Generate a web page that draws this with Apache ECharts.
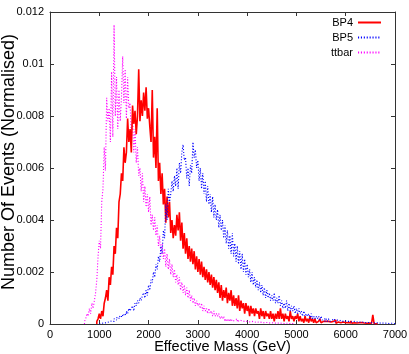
<!DOCTYPE html>
<html>
<head>
<meta charset="utf-8">
<script src="https://cdn.jsdelivr.net/npm/echarts@6/dist/echarts.min.js"></script>
<style>html,body{margin:0;padding:0;background:#fff}#c{width:409px;height:354px}</style>
</head>
<body>
<div id="c"></div>
<script>
const binWidth = 25;
const xTicks = [0, 1000, 2000, 3000, 4000, 5000, 6000, 7000];
const yTicks = [0, 0.002, 0.004, 0.006, 0.008, 0.01, 0.012];
const seriesNames = ['BP4', 'BP5', 'ttbar'];

const bp4Start = 950;
const bp4Values = [
0.0001,0.0002,0.0004,0.0002,0.0005,0.0003,0.0008,0.0010,0.0013,0.0009,
0.0018,0.0015,0.0022,0.0019,0.0030,0.0027,0.0037,0.0033,0.0047,0.0050,
0.0058,0.0055,0.0068,0.0062,0.0066,0.0079,0.0070,0.0075,0.0066,0.0084,
0.0077,0.0082,0.0073,0.0080,0.0098,0.0078,0.0086,0.0080,0.0089,0.0082,
0.0091,0.0079,0.0083,0.0076,0.0070,0.0090,0.0064,0.0072,0.0060,0.0083,
0.0055,0.0062,0.0050,0.0058,0.0046,0.0052,0.0039,0.0049,0.0041,0.0047,
0.0035,0.0040,0.0033,0.0038,0.0034,0.0042,0.0036,0.0043,0.0032,0.0039,
0.0029,0.0035,0.0027,0.0033,0.0025,0.0030,0.0024,0.0029,0.0023,0.0028,
0.0021,0.0026,0.0020,0.0025,0.0019,0.0024,0.0018,0.0022,0.0017,0.0021,
0.0016,0.0020,0.0015,0.0019,0.0014,0.0018,0.0013,0.0017,0.0012,0.0016,
0.0010,0.0015,0.0009,0.0013,0.0010,0.0014,0.0008,0.0012,0.0009,0.0013,
0.0007,0.0011,0.0007,0.0010,0.0006,0.0011,0.0005,0.0009,0.0006,0.0008,
0.0004,0.0008,0.0005,0.0007,0.0003,0.0007,0.0004,0.0006,0.0003,0.0006,
0.0004,0.0005,0.0002,0.0006,0.0003,0.0005,0.0002,0.0005,0.0003,0.0004,
0.0002,0.0005,0.0002,0.0004,0.0001,0.0004,0.0002,0.0005,0.0002,0.0006,
0.0002,0.0004,0.0001,0.0004,0.0002,0.0003,0.0001,0.0005,0.0002,0.0003,
0.0001,0.0003,0.0002,0.0004,0.0001,0.0003,0.0001,0.0002,0.00005,0.0003,
0.0001,0.0002,0.00005,0.0003,0.0001,0.0002,0.00005,0.0002,0.00005,0.0001,
0.00005,0.0002,0.00005,0.0001,0.00005,0.0001,0.00005,0.0001,0.00003,0.00008,
0.00003,0.0001,0.00005,0.00015,0.00003,0.00008,0.00003,0.00005,0.00002,0.00008,
0.00003,0.00005,0.00002,0.00006,0.00003,0.00004,0.00012,0.00003,0.00005,0.00002,
0.00004,0.00002,0.00005,0.00002,0.00006,0.00002,0.00004,0.00002,0.00003,0.00002,
0.00004,0.00002,0.00003,0.00002,0.00035,0.00002,0.00001,0.00001
];

const bp5Start = 1000;
const bp5Values = [
0.00002,0.00003,0.00005,0.00004,0.00006,0.00005,0.0001,0.00008,0.0001,0.00012,
0.00015,0.0001,0.0002,0.00015,0.00025,0.0002,0.0003,0.00025,0.00035,0.0003,
0.0004,0.00035,0.0005,0.0004,0.0006,0.0005,0.0006,0.0007,0.0005,0.0008,
0.0007,0.0009,0.0008,0.0010,0.0009,0.0011,0.0012,0.0010,0.0013,0.0011,
0.0015,0.0013,0.0017,0.0016,0.0020,0.0018,0.0023,0.0021,0.0026,0.0024,
0.0030,0.0027,0.0036,0.0033,0.0046,0.0040,0.0052,0.0047,0.0050,0.0055,
0.0051,0.0057,0.0053,0.0060,0.0052,0.0062,0.0058,0.0066,0.0069,0.0063,
0.0064,0.0056,0.0060,0.0053,0.0061,0.0058,0.0070,0.0064,0.0067,0.0060,
0.0063,0.0055,0.0060,0.0052,0.0058,0.0050,0.0055,0.0047,0.0053,0.0046,
0.0050,0.0043,0.0049,0.0041,0.0046,0.0040,0.0044,0.0037,0.0042,0.0036,
0.0040,0.0033,0.0038,0.0031,0.0036,0.0029,0.0034,0.0027,0.0035,0.0026,
0.0031,0.0024,0.0030,0.0023,0.0028,0.0021,0.0027,0.0020,0.0025,0.0019,
0.0023,0.0018,0.0021,0.0016,0.0020,0.0015,0.0018,0.0014,0.0017,0.0013,
0.0016,0.0012,0.0015,0.0011,0.0014,0.0010,0.0013,0.0010,0.0012,0.0009,
0.0011,0.0009,0.0012,0.0008,0.0010,0.0008,0.0011,0.0007,0.0009,0.0006,
0.0008,0.0006,0.0009,0.0005,0.0008,0.0005,0.0007,0.0005,0.0007,0.0004,
0.0006,0.0004,0.0006,0.0004,0.0005,0.0003,0.0005,0.0003,0.0004,0.0003,
0.0004,0.0002,0.0004,0.0002,0.0003,0.0002,0.0003,0.0002,0.0003,0.00015,
0.0003,0.00015,0.0002,0.0001,0.0002,0.0001,0.0002,0.0001,0.00015,0.0001,
0.0002,0.00008,0.00015,0.0001,0.00015,0.00008,0.0001,0.00005,0.00012,0.00006,
0.0001,0.00005,0.0001,0.00004,0.00008,0.00005,0.0001,0.00004,0.00008,0.00003,
0.00007,0.00004,0.00008,0.00003,0.00006,0.00003,0.00005,0.00002,0.00006,0.00003,
0.00005,0.00002,0.00004,0.00002,0.00005,0.00002,0.00004,0.00001,0.00003,0.00002,
0.00004,0.00001,0.00003,0.00001,0.00002,0.00001,0.00003,0.00001,0.00002,0.00001
];

const ttbarStart = 700;
const ttbarValues = [
0.0001,0.0002,0.0004,0.0003,0.0006,0.0004,0.0008,0.0006,0.0009,0.0012,
0.0017,0.0026,0.0032,0.0029,0.0047,0.0052,0.0068,0.0059,0.0087,0.0078,
0.0083,0.0070,0.0097,0.0072,0.0115,0.0080,0.0095,0.0075,0.0090,0.0078,
0.0087,0.0103,0.0085,0.0098,0.0079,0.0095,0.0083,0.0085,0.0072,0.0080,
0.0066,0.0075,0.0062,0.0068,0.0057,0.0060,0.0051,0.0058,0.0047,0.0053,
0.0045,0.0050,0.0043,0.0049,0.0038,0.0042,0.0036,0.0041,0.0034,0.0038,
0.0030,0.0034,0.0026,0.0031,0.0025,0.0029,0.0022,0.0027,0.0021,0.0025,
0.0019,0.0023,0.0018,0.0021,0.0016,0.0019,0.0015,0.0018,0.0013,0.0016,
0.0012,0.0015,0.0011,0.0014,0.0010,0.0013,0.0009,0.0011,0.0008,0.0010,
0.0007,0.0009,0.0007,0.0008,0.0006,0.0008,0.0005,0.0007,0.0005,0.0006,
0.0004,0.0006,0.0004,0.0005,0.0003,0.0005,0.0003,0.0004,0.0003,0.0004,
0.0002,0.0003,0.0002,0.0003,0.0001,0.0002,0.0001,0.0002,0.0001,0.0002,
0.0001,0.00015,0.0001,0.0002,0.00008,0.00015,0.0001,0.00012,0.00006,0.0001,
0.00005,0.0001,0.00005,0.00008,0.00004,0.0001,0.00005,0.00008,0.00003,0.00006,
0.00004,0.00008,0.00003,0.00006,0.00002,0.00005,0.00003,0.00006,0.00002,0.00004,
0.00002,0.00005,0.00002,0.00004,0.00001,0.00003,0.00002,0.00004,0.00001,0.00003,
0.00001,0.00002,0.00001,0.00003,0.00001,0.00002,0.00001,0.00002,0.00001,0.00001
];

function toSteps(start, values) {
  const pts = [[start, 0]];
  values.forEach((v, i) => pts.push([start + i * binWidth, v]));
  pts.push([start + values.length * binWidth, 0]);
  return pts;
}

const sans = "'Liberation Sans', Arial, sans-serif";
const axisColor = '#333';

function baseAxis(extra) {
  return Object.assign({
    type: 'value',
    nameMoveOverlap: false,
    axisLine: { show: true, onZero: false, lineStyle: { color: axisColor, width: 1 } },
    axisTick: { show: true, inside: true, length: 4, lineStyle: { color: axisColor } },
    splitLine: { show: false }
  }, extra);
}

const chart = echarts.init(document.getElementById('c'), null, { renderer: 'canvas' });
chart.setOption({
  animation: false,
  backgroundColor: '#fff',
  grid: { left: 50, right: 14, top: 12, bottom: 30, containLabel: false, outerBoundsMode: 'none' },
  legend: {
    data: seriesNames,
    orient: 'vertical',
    align: 'right',
    right: 22,
    top: 12,
    itemWidth: 23,
    itemHeight: 10,
    itemGap: 4,
    itemStyle: { color: 'rgba(0,0,0,0)', borderColor: 'rgba(0,0,0,0)', borderWidth: 0 },
    textStyle: { fontFamily: sans, fontSize: 11, color: '#000' }
  },
  xAxis: [
    baseAxis({
      min: xTicks[0], max: xTicks[xTicks.length - 1], interval: 1000,
      name: 'Effective Mass (GeV)', nameLocation: 'middle', nameGap: 15,
      nameTextStyle: { fontFamily: sans, fontSize: 14.5, color: '#000', verticalAlign: 'top' },
      axisLabel: { fontFamily: sans, fontSize: 11, color: '#000', margin: 5,
        formatter: v => String(v) }
    }),
    baseAxis({
      position: 'top', min: xTicks[0], max: xTicks[xTicks.length - 1], interval: 1000,
      axisLabel: { show: false }
    })
  ],
  yAxis: [
    baseAxis({
      min: yTicks[0], max: yTicks[yTicks.length - 1], interval: 0.002,
      name: 'Number Of Events (Normalised)', nameLocation: 'middle', nameGap: 32,
      nameTextStyle: { fontFamily: sans, fontSize: 18, color: '#000', padding: [0, 0, 0, 12] },
      axisLabel: { fontFamily: sans, fontSize: 11, color: '#000', margin: 6,
        formatter: v => String(+v.toFixed(3)) }
    }),
    baseAxis({
      position: 'right', min: yTicks[0], max: yTicks[yTicks.length - 1], interval: 0.002,
      axisLabel: { show: false }
    })
  ],
  series: [
    {
      name: 'BP4', type: 'line', step: 'end', showSymbol: false, symbol: 'none', z: 3,
      data: toSteps(bp4Start, bp4Values),
      lineStyle: { color: '#ff0000', width: 1.6 }, itemStyle: { color: '#ff0000' }
    },
    {
      name: 'BP5', type: 'line', step: 'end', showSymbol: false, symbol: 'none', z: 4,
      data: toSteps(bp5Start, bp5Values),
      lineStyle: { color: '#0000ff', width: 1.1, type: [1.1, 1.8] }, itemStyle: { color: '#0000ff' }
    },
    {
      name: 'ttbar', type: 'line', step: 'end', showSymbol: false, symbol: 'none', z: 2,
      data: toSteps(ttbarStart, ttbarValues),
      lineStyle: { color: '#ff00ff', width: 1.1, type: [1.1, 1.8] }, itemStyle: { color: '#ff00ff' }
    }
  ]
});
</script>
</body>
</html>
